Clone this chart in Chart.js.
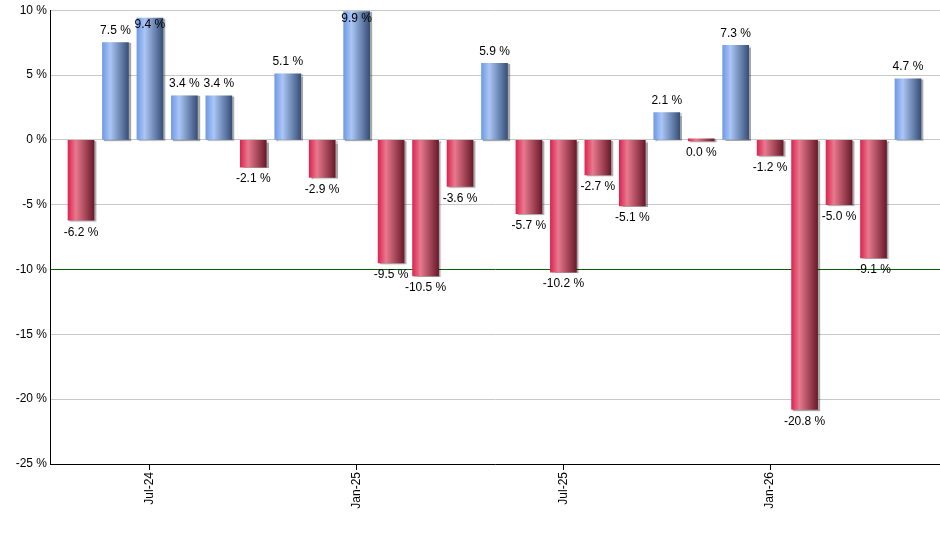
<!DOCTYPE html>
<html lang="en">
<head>
    <meta charset="UTF-8">
    <title>Monthly Returns</title>
    <script src="https://cdn.jsdelivr.net/npm/chart.js"></script>
    <style>
        * { margin: 0; padding: 0; box-sizing: border-box; }
        body { background: #fff; }
        .wrap { width: 940px; height: 550px; }
    </style>
</head>
<body>
    <div class="wrap"><canvas id="returnsChart" width="940" height="550"></canvas></div>

    <script>
        // monthly change, May-24 .. May-26
        const months = ['May-24', 'Jun-24', 'Jul-24', 'Aug-24', 'Sep-24', 'Oct-24', 'Nov-24', 'Dec-24',
            'Jan-25', 'Feb-25', 'Mar-25', 'Apr-25', 'May-25', 'Jun-25', 'Jul-25', 'Aug-25', 'Sep-25',
            'Oct-25', 'Nov-25', 'Dec-25', 'Jan-26', 'Feb-26', 'Mar-26', 'Apr-26', 'May-26'];
        const returns = [-6.2, 7.5, 9.4, 3.4, 3.4, -2.1, 5.1, -2.9, 9.9, -9.5, -10.5, -3.6, 5.9, -5.7,
            -10.2, -2.7, -5.1, 2.1, 0.0, 7.3, -1.2, -20.8, -5.0, -9.1, 4.7];
        const shownMonths = ['Jul-24', 'Jan-25', 'Jul-25', 'Jan-26'];
        const yTicks = [10, 5, 0, -5, -10, -15, -20, -25];

        const BAR_W = 26;

        // horizontal gradient for each bar
        function barFill(context) {
            const chart = context.chart;
            const v = returns[context.dataIndex];
            const xScale = chart.scales.x;
            const x = xScale ? xScale.getPixelForValue(context.dataIndex) : NaN;
            if (!Number.isFinite(x)) return v > 0 ? '#7aa4ee' : '#c83a5a';
            const g = chart.ctx.createLinearGradient(x - BAR_W / 2, 0, x + BAR_W / 2, 0);
            if (v > 0) {
                g.addColorStop(0, '#6f9ae6');
                g.addColorStop(0.3, '#abc6f5');
                g.addColorStop(1, '#37507a');
            } else {
                g.addColorStop(0, '#dc2550');
                g.addColorStop(0.3, '#e8798e');
                g.addColorStop(1, '#6a1a2a');
            }
            return g;
        }

        // soft shadow on the right of bars
        const barShadow = {
            id: 'barShadow',
            beforeDatasetDraw(chart) {
                const ctx = chart.ctx;
                ctx.save();
                ctx.shadowColor = 'rgba(0,0,0,0.35)';
                ctx.shadowOffsetX = 2;
                ctx.shadowOffsetY = 1;
                ctx.shadowBlur = 1;
            },
            afterDatasetDraw(chart) {
                chart.ctx.restore();
            }
        };

        // value labels above / below each bar
        const valueLabels = {
            id: 'valueLabels',
            afterDatasetsDraw(chart) {
                const ctx = chart.ctx;
                const area = chart.chartArea;
                const meta = chart.getDatasetMeta(0);
                ctx.save();
                ctx.font = '12px "Liberation Sans", Arial, sans-serif';
                ctx.fillStyle = '#000';
                ctx.textAlign = 'center';
                ctx.textBaseline = 'middle';
                meta.data.forEach((bar, i) => {
                    const v = returns[i];
                    let y;
                    if (v > 0) {
                        y = bar.y - 12;
                        if (y - 7 < area.top) y = bar.y + 7;
                    } else {
                        y = Math.max(bar.y, bar.base) + 12;
                    }
                    ctx.fillText(v.toFixed(1) + ' %', bar.x, y);
                });
                ctx.restore();
            }
        };

        const ctx = document.getElementById('returnsChart').getContext('2d');
        const returnsChart = new Chart(ctx, {
            type: 'bar',
            data: {
                datasets: [{
                    data: returns.map((v, i) => ({ x: i, y: v })),
                    backgroundColor: barFill,
                    borderWidth: 0,
                    barThickness: BAR_W,
                    minBarLength: 2
                }]
            },
            options: {
                responsive: false,
                animation: false,
                layout: { padding: { top: 10, right: 0, left: 0, bottom: 0 } },
                plugins: {
                    legend: { display: false },
                    tooltip: { enabled: false }
                },
                scales: {
                    x: {
                        type: 'linear',
                        offset: false,
                        min: -0.9,
                        max: 24.93,
                        afterBuildTicks: (scale) => {
                            scale.ticks = shownMonths.map(m => ({ value: months.indexOf(m) }));
                        },
                        afterFit: (scale) => { scale.height = 86; },
                        ticks: {
                            autoSkip: false,
                            minRotation: 90,
                            maxRotation: 90,
                            padding: 2,
                            color: '#000',
                            font: { family: '"Liberation Sans", Arial, sans-serif', size: 12 },
                            callback: (value) => months[Math.round(value)]
                        },
                        grid: {
                            offset: false,
                            drawOnChartArea: false,
                            drawTicks: true,
                            tickLength: 6,
                            color: '#000'
                        },
                        border: { display: true, color: '#000', width: 1 }
                    },
                    y: {
                        min: -25,
                        max: 10,
                        afterBuildTicks: (scale) => {
                            scale.ticks = yTicks.map(v => ({ value: v }));
                        },
                        afterFit: (scale) => { scale.width = 50; },
                        ticks: {
                            padding: 3,
                            color: '#000',
                            font: { family: '"Liberation Sans", Arial, sans-serif', size: 12 },
                            callback: (value) => value + ' %'
                        },
                        grid: {
                            drawTicks: false,
                            color: (c) => c.tick && c.tick.value === -10 ? '#006400' : '#c8c8c8',
                            lineWidth: 1
                        },
                        border: { display: true, color: '#000', width: 1 }
                    }
                }
            },
            plugins: [barShadow, valueLabels]
        });
    </script>
</body>
</html>
